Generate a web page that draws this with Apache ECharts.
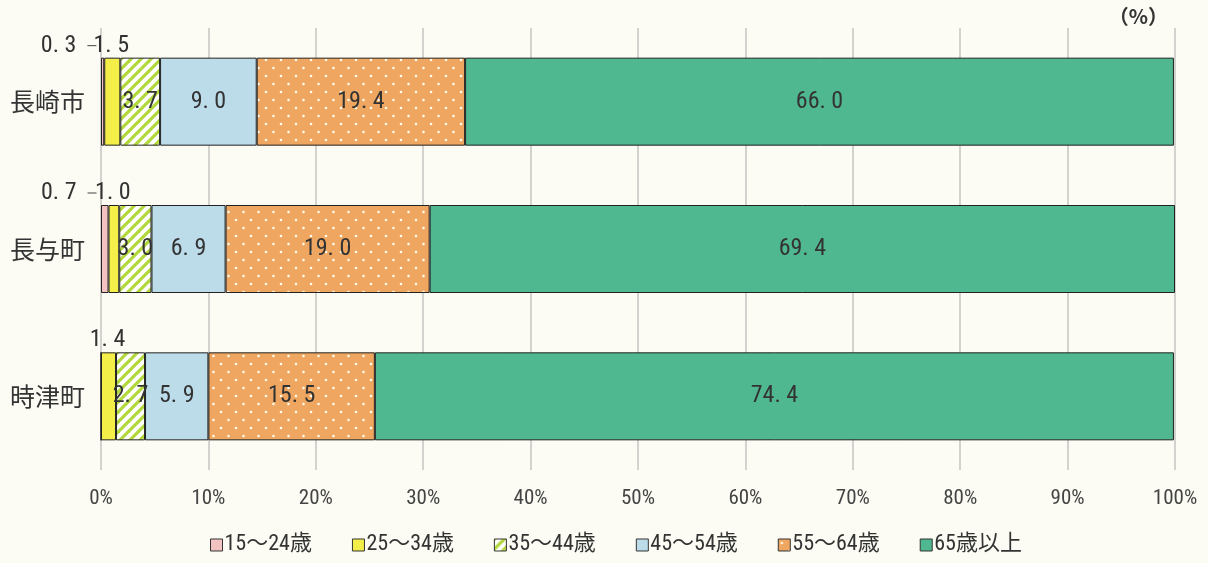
<!DOCTYPE html>
<html><head><meta charset="utf-8">
<script src="https://cdn.jsdelivr.net/npm/echarts@6/dist/echarts.min.js"></script>
<style>html,body{margin:0;padding:0;background:#fcfcf5;}#c{width:1208px;height:563px;}</style>
</head><body><div id="c"></div>
<script>
const categories = ['長崎市', '長与町', '時津町'];
const seriesNames = ['15～24歳', '25～34歳', '35～44歳', '45～54歳', '55～64歳', '65歳以上'];
const age15_24 = [0.3, 0.7, 0];
const age25_34 = [1.5, 1.0, 1.4];
const age35_44 = [3.7, 3.0, 2.7];
const age45_54 = [9.0, 6.9, 5.9];
const age55_64 = [19.4, 19.0, 15.5];
const age65plus = [66.0, 69.4, 74.4];
const xTicks = [0, 10, 20, 30, 40, 50, 60, 70, 80, 90, 100];

function stripe() {
  const c = document.createElement('canvas'); c.width = 10; c.height = 10;
  const g = c.getContext('2d');
  g.fillStyle = '#ffffff'; g.fillRect(0, 0, 10, 10);
  g.strokeStyle = '#b3d83c'; g.lineWidth = 3.2;
  [[-5, 5, 5, -5], [0, 10, 10, 0], [5, 15, 15, 5]].forEach(l => { g.beginPath(); g.moveTo(l[0], l[1]); g.lineTo(l[2], l[3]); g.stroke(); });
  return { image: c, repeat: 'repeat' };
}
function dots() {
  const c = document.createElement('canvas'); c.width = 15; c.height = 16;
  const g = c.getContext('2d');
  g.fillStyle = '#efa660'; g.fillRect(0, 0, 15, 16);
  g.fillStyle = 'rgba(255,255,240,0.95)';
  [[3.5, 4], [11, 12]].forEach(p => { g.beginPath(); g.arc(p[0], p[1], 1.3, 0, Math.PI * 2); g.fill(); });
  return { image: c, repeat: 'repeat' };
}
const fills = ['#f2c3c0', '#f3ee48', stripe(), '#bcdcea', dots(), '#50b891'];
const values = [age15_24, age25_34, age35_44, age45_54, age55_64, age65plus];

const fmt = v => v.toFixed(1).replace('.', '. ');
const numFont = '"Roboto Condensed","Noto Sans CJK JP",sans-serif';

const leftLabel = (dx) => ({ show: true, position: 'top', offset: [dx, 0], distance: 0,
  formatter: p => '{t|' + fmt(p.value) + '}  {l|}',
  rich: { t: { fontSize: 24, fontFamily: numFont, color: '#333' }, l: { width: 9, height: 1, backgroundColor: '#444' } } });
const topLabel = { show: true, position: 'top', offset: [-1, 0], distance: 0 };
const overrides = {
  0: { 0: leftLabel(-34), 1: leftLabel(-36) },
  1: { 0: topLabel, 1: topLabel, 2: topLabel }
};

const series = seriesNames.map((name, si) => ({
  name, type: 'bar', stack: 'total', barWidth: 88,
  itemStyle: { color: fills[si], borderColor: '#222', borderWidth: 1 },
  label: { show: si >= 2, position: 'inside', color: '#333', fontSize: 24, fontFamily: numFont,
    formatter: p => fmt(p.value) },
  data: values[si].map((v, di) => {
    const o = { value: v };
    if (overrides[si] && overrides[si][di]) o.label = overrides[si][di];
    else if (si < 2) o.label = { show: false };
    if (v === 0) o.label = { show: false };
    return o;
  })
}));

const chart = echarts.init(document.getElementById('c'));
chart.setOption({
  backgroundColor: '#fcfcf5',
  animation: false,
  grid: { left: 101, right: 33, top: 28, height: 442 },
  xAxis: { type: 'value', min: 0, max: 100, interval: 10,
    axisLine: { show: false }, axisTick: { show: false },
    splitLine: { show: true, lineStyle: { color: '#c4c4c0', width: 1.5 } },
    axisLabel: { formatter: v => xTicks.includes(v) ? v + '%' : '', color: '#444', fontSize: 21, fontFamily: numFont, margin: 18 } },
  yAxis: { type: 'category', data: categories, inverse: true,
    axisLine: { show: false }, axisTick: { show: false },
    axisLabel: { color: '#333', fontSize: 25, fontFamily: '"Noto Sans CJK JP",sans-serif', margin: 16 } },
  legend: { bottom: 2, left: 205, itemWidth: 12, itemHeight: 12, itemGap: 40, icon: 'rect',
    itemStyle: { borderColor: '#333', borderWidth: 1 },
    textStyle: { color: '#333', fontSize: 22, fontFamily: numFont, padding: [0, 0, 0, -3] },
    data: seriesNames },
  graphic: [{ type: 'text', right: 40, top: 6,
    style: { text: '（%）', fontSize: 20, fontWeight: 'bold', fill: '#333', fontFamily: '"Noto Sans CJK JP",sans-serif' } }],
  series
});
</script></body></html>
